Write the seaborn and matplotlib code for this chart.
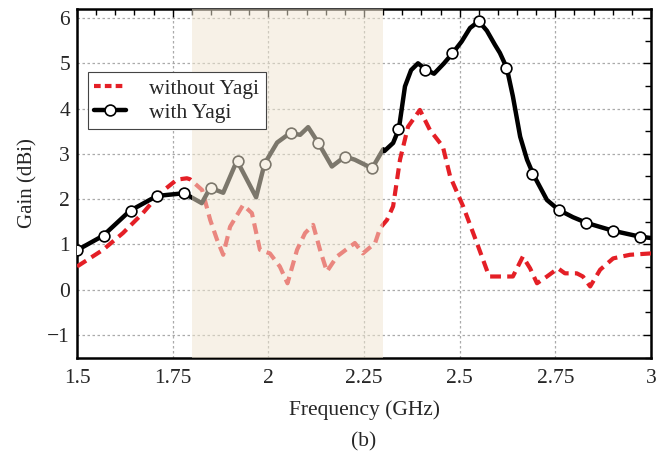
import matplotlib
matplotlib.use("Agg")
import matplotlib.pyplot as plt
from matplotlib.lines import Line2D
from matplotlib.ticker import MultipleLocator
import seaborn as sns
import pandas as pd

# ---- data ----
freq_with = [1.500, 1.568, 1.638, 1.709, 1.780, 1.826, 1.848, 1.882, 1.918, 1.968,
             1.990, 2.023, 2.057, 2.083, 2.104, 2.130, 2.166, 2.200, 2.226, 2.245,
             2.271, 2.300, 2.303, 2.326, 2.341, 2.357, 2.373, 2.391, 2.412, 2.433,
             2.459, 2.482, 2.505, 2.527, 2.550, 2.571, 2.592, 2.605, 2.623, 2.639,
             2.658, 2.676, 2.692, 2.728, 2.759, 2.796, 2.833, 2.901, 2.971, 3.000]
gain_with = [0.87, 1.19, 1.74, 2.07, 2.13, 1.91, 2.25, 2.14, 2.85, 2.04,
             2.78, 3.25, 3.46, 3.42, 3.59, 3.25, 2.72, 2.94, 2.87, 2.79,
             2.68, 3.10, 3.06, 3.24, 3.55, 4.49, 4.85, 5.00, 4.86, 4.77,
             5.00, 5.23, 5.48, 5.78, 5.93, 5.72, 5.41, 5.23, 4.90, 4.27,
             3.38, 2.87, 2.55, 1.98, 1.76, 1.60, 1.47, 1.30, 1.17, 1.14]

marker_freq = [1.50, 1.57, 1.64, 1.71, 1.78, 1.85, 1.92, 1.99, 2.06, 2.13, 2.20,
               2.27, 2.34, 2.41, 2.48, 2.55, 2.62, 2.69, 2.76, 2.83, 2.90, 2.97]
marker_gain = [0.87, 1.19, 1.74, 2.07, 2.13, 2.25, 2.85, 2.78, 3.46, 3.25, 2.94,
               2.68, 3.55, 4.86, 5.23, 5.93, 4.90, 2.55, 1.76, 1.47, 1.30, 1.17]

freq_without = [1.500, 1.568, 1.620, 1.672, 1.717, 1.761, 1.787, 1.795, 1.827, 1.848,
                1.866, 1.882, 1.900, 1.934, 1.957, 1.978, 2.004, 2.030, 2.050, 2.075,
                2.096, 2.117, 2.135, 2.153, 2.179, 2.226, 2.247, 2.279, 2.292, 2.310,
                2.326, 2.344, 2.365, 2.396, 2.422, 2.456, 2.475, 2.509, 2.545, 2.574,
                2.579, 2.639, 2.665, 2.684, 2.702, 2.728, 2.757, 2.775, 2.806, 2.822,
                2.841, 2.867, 2.901, 2.945, 3.000]
gain_without = [0.51, 0.88, 1.25, 1.69, 2.13, 2.43, 2.46, 2.44, 2.20, 1.54,
                1.10, 0.77, 1.39, 1.87, 1.69, 0.88, 0.80, 0.51, 0.14, 0.88,
                1.25, 1.43, 0.88, 0.40, 0.73, 1.03, 0.80, 1.03, 1.36, 1.54,
                1.84, 2.87, 3.60, 3.97, 3.53, 3.16, 2.50, 1.84, 1.03, 0.36,
                0.29, 0.29, 0.73, 0.47, 0.14, 0.29, 0.47, 0.36, 0.36, 0.29,
                0.07, 0.44, 0.69, 0.77, 0.80]

band = (1.8, 2.3)
x_ticks = [1.5, 1.75, 2.0, 2.25, 2.5, 2.75, 3.0]
x_ticklabels = ["1.5", "1.75", "2", "2.25", "2.5", "2.75", "3"]
y_ticks = [-1, 0, 1, 2, 3, 4, 5, 6]
y_ticklabels = ["\u22121", "0", "1", "2", "3", "4", "5", "6"]

# ---- style ----
sns.set_theme(style="white")
plt.rcParams["font.family"] = ["Liberation Serif", "DejaVu Serif"]

FS = 15.5
fig = plt.figure(figsize=(6.68, 4.59), dpi=100)
ax = fig.add_axes([0.1153, 0.2211, 0.8593, 0.7593])

df_with = pd.DataFrame({"f": freq_with, "g": gain_with})
df_without = pd.DataFrame({"f": freq_without, "g": gain_without})
df_mk = pd.DataFrame({"f": marker_freq, "g": marker_gain})

red = "#e41f26"
sns.lineplot(data=df_without, x="f", y="g", ax=ax, sort=False, color=red, lw=3.0,
             zorder=3)
ax.lines[-1].set_dashes([2.6, 1.5])
sns.lineplot(data=df_with, x="f", y="g", ax=ax, sort=False, color="black", lw=3.2,
             zorder=3)
ax.lines[-1].set_solid_joinstyle("round")
sns.scatterplot(data=df_mk, x="f", y="g", ax=ax, s=60, facecolor="white",
                edgecolor="black", linewidth=1.2, zorder=4)

ax.axvspan(band[0], band[1], color=(0.94, 0.90, 0.82), alpha=0.52, lw=0, zorder=5)

ax.set_xlim(1.5, 3.0)
ax.set_ylim(-1.5, 6.2)
ax.set_xticks(x_ticks)
ax.set_xticklabels(x_ticklabels)
ax.set_yticks(y_ticks)
ax.set_yticklabels(y_ticklabels)
ax.xaxis.set_minor_locator(MultipleLocator(0.05))
ax.yaxis.set_minor_locator(MultipleLocator(0.5))
ax.tick_params(which="both", direction="in", top=True, right=True, labelsize=FS,
               color="black")
ax.tick_params(which="major", length=6, width=1.0)
ax.tick_params(which="minor", length=4, width=1.0)
ax.tick_params(axis="x", which="major", pad=8)
ax.tick_params(axis="y", which="major", pad=5)
ax.grid(True, which="major", ls=(0, (2, 2)), color="#aaaaaa", lw=0.9)
for s in ax.spines.values():
    s.set_color("black")
    s.set_linewidth(1.8)

ax.set_xlabel("Frequency (GHz)", fontsize=FS, labelpad=9)
ax.set_ylabel("Gain (dBi)", fontsize=15, labelpad=7)
fig.text(0.5 * (0.1153 + 0.9746), 1 - 442 / 459, "(b)", ha="center", va="center",
         fontsize=FS)

handles = [Line2D([], [], color=red, lw=3.0, dashes=[1.6, 1.0]),
           Line2D([], [], color="black", lw=3.2, marker="o", markersize=7.8,
                  markerfacecolor="white", markeredgecolor="black",
                  markeredgewidth=1.2)]
leg = ax.legend(handles, ["without Yagi", "with Yagi"], loc="upper left",
                bbox_to_anchor=(0.019, 0.819), fontsize=FS, frameon=True,
                fancybox=False, edgecolor="#444444", framealpha=1,
                handlelength=1.45, handletextpad=1.1, borderpad=0.3,
                labelspacing=0.2, borderaxespad=0.0)
leg.get_frame().set_linewidth(0.8)
leg.set_zorder(10)

fig.savefig("out.png", dpi=100)
